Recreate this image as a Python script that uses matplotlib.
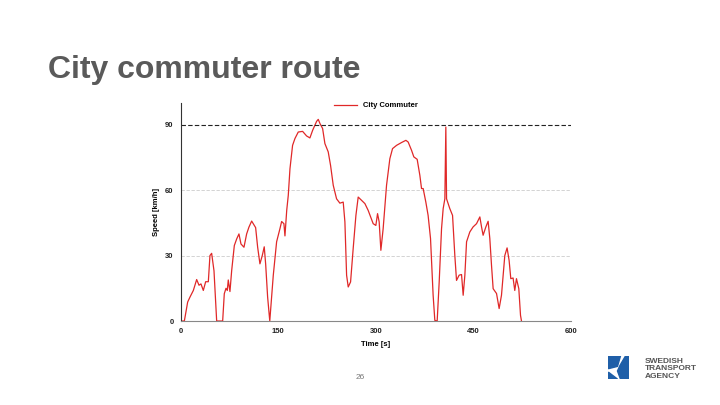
import matplotlib
matplotlib.use("Agg")
import matplotlib.pyplot as plt
from matplotlib.patches import Polygon

plt.rcParams['font.family'] = ['Liberation Sans', 'DejaVu Sans']

### data
time_s = [0, 5.9, 11, 14.6, 19.7, 24.8, 28.4, 31.4, 35, 38.6, 42.7, 45.2, 47.8, 51.4, 55.5,
          64.7, 67.2, 69.8, 71.8, 73.3, 75.9, 78.5, 82.6, 86.2, 89.7, 92.8, 97.4, 101.5, 105,
          109.2, 113.2, 115.3, 118.4, 121.9, 125.5, 128.5, 130.7, 133.7, 137, 142.4, 147.5,
          152.6, 155.2, 158.7, 160.3, 163, 165.4, 168, 172, 175.6, 180.7, 187.4, 193.5, 198.6,
          202.8, 208.9, 211.4, 214, 218.1, 221.6, 226.7, 230.3, 234.4, 239.5, 244.6, 249.7,
          252.3, 254.9, 257.4, 261, 265, 269.2, 272.7, 277.9, 283, 288, 295.7, 299.8, 302.4,
          304.9, 307.5, 311, 316.2, 321.3, 325.4, 331.6, 339.3, 345.9, 349.4, 354.6, 358.1,
          363.2, 367.3, 369.9, 372.4, 376.5, 380, 383.7, 387.7, 390.3, 393.9, 397, 400.6,
          403.1, 405.7, 407.2, 408.3, 413.3, 417.5, 421, 423.6, 427.6, 431.3, 433.8, 436.4,
          439, 444, 449, 454.3, 459.4, 462, 464.4, 468.6, 472.1, 474.7, 477.3, 479.8, 485,
          489, 492.6, 497.7, 501.2, 504.3, 506.9, 510.4, 513, 515.6, 519.2, 521.8, 523.3]
speed_kmh = [0, 0, 8.7, 11, 14, 19, 16.4, 17, 14, 18, 18, 30, 31, 23, 0,
             0, 12.5, 15, 14, 18.8, 13.5, 23, 34.6, 37.6, 39.9, 35.3, 33.8, 39.9, 43,
             45.8, 43.8, 42.8, 33.8, 26.2, 30, 34, 26, 11, 0, 21, 36.3,
             42.3, 45.6, 44.6, 39, 50.7, 57.6, 69.8, 80.5, 83.6, 86.6, 86.9, 84.8, 83.9,
             87.4, 91.5, 92.4, 90.5, 88.2, 81.3, 77.5, 71.3, 62.2, 56, 54, 54.5,
             45.4, 21, 15.6, 17.9, 33.2, 48.4, 56.8, 55.3, 53.8, 50.7, 44.6, 43.8, 49.2,
             45.4, 32.4, 42.3, 62.2, 74.4, 79, 80.5, 81.8, 82.8, 82, 78.2, 75.2,
             74.1, 66.8, 60.7, 60.7, 54.5, 48.4, 37.8, 11.8, 0.3, 0, 17.9, 42.3,
             51.5, 56, 88.9, 56, 51.5, 48.4, 30, 18.6, 21, 21.3, 11.8, 21,
             36.3, 40.8, 43.1, 44.6, 47.7, 43.1, 39.3, 43.1, 45.7, 37.8, 25.5, 14.8, 12.6,
             5.7, 11.8, 30, 33.5, 27.8, 19.4, 19.7, 14, 19.4, 14.8, 2.6, 0]
speed_limit = 90
x_ticks = [0, 150, 300, 450, 600]
y_ticks = [0, 30, 60, 90]

fig = plt.figure(figsize=(7.2, 4.05), dpi=100)
fig.patch.set_facecolor("white")

### title, page number
fig.text(0.066, 0.828, "City commuter route", fontsize=23, fontweight="bold",
         color="#5a5a5a", va="center", ha="left")
fig.text(0.5, 0.069, "26", fontsize=6, color="#777777", ha="center", va="center")

### the chart
ax = fig.add_axes([0.2507, 0.2074, 0.543, 0.5388])
ax.plot(time_s, speed_kmh, color="#e02828", lw=0.9, label="City Commuter")
ax.axhline(speed_limit, color="#222222", lw=0.8, ls=(0, (4, 2)))
for yv in y_ticks[1:3]:
    ax.axhline(yv, color="#cccccc", lw=0.6, ls=(0, (4, 2)), zorder=0)
ax.set_xlim(0, 600)
ax.set_ylim(0, 100)
ax.set_xticks(x_ticks)
ax.set_yticks(y_ticks)
ax.tick_params(length=0, labelsize=5.5, colors="#222222", pad=5)
for lab in ax.get_xticklabels() + ax.get_yticklabels():
    lab.set_fontweight("bold")
for s in ["top", "right"]:
    ax.spines[s].set_visible(False)
ax.spines["left"].set_color("#333333")
ax.spines["left"].set_linewidth(0.8)
ax.spines["bottom"].set_color("#888888")
ax.spines["bottom"].set_linewidth(0.8)
ax.set_xlabel("Time [s]", fontsize=5.5, fontweight="bold", labelpad=4)
ax.set_ylabel("Speed [km/h]", fontsize=5.5, fontweight="bold", labelpad=4)
leg = ax.legend(loc="upper center", bbox_to_anchor=(0.5, 1.035), frameon=False,
                prop={"size": 5.5, "weight": "bold"}, handlelength=3)

### logo
la = fig.add_axes([0.845, 0.064, 0.028, 0.057])
la.set_xlim(0, 1)
la.set_ylim(0, 1)
la.axis("off")
blue = "#1f5fa8"
la.add_patch(Polygon([[0, 1], [0.6, 1], [0.45, 0.55], [0, 0.45]], color=blue))
la.add_patch(Polygon([[0, 0], [0, 0.3], [0.45, 0.0]], color=blue))
la.add_patch(Polygon([[0.85, 1], [1, 1], [1, 0], [0.6, 0], [0.45, 0.35], [0.58, 0.6]], color=blue))
fig.text(0.896, 0.089, "SWEDISH\nTRANSPORT\nAGENCY", fontsize=6, fontweight="bold",
         color="#555555", va="center", ha="left", linespacing=1.05)

fig.savefig("out.png", dpi=100)
